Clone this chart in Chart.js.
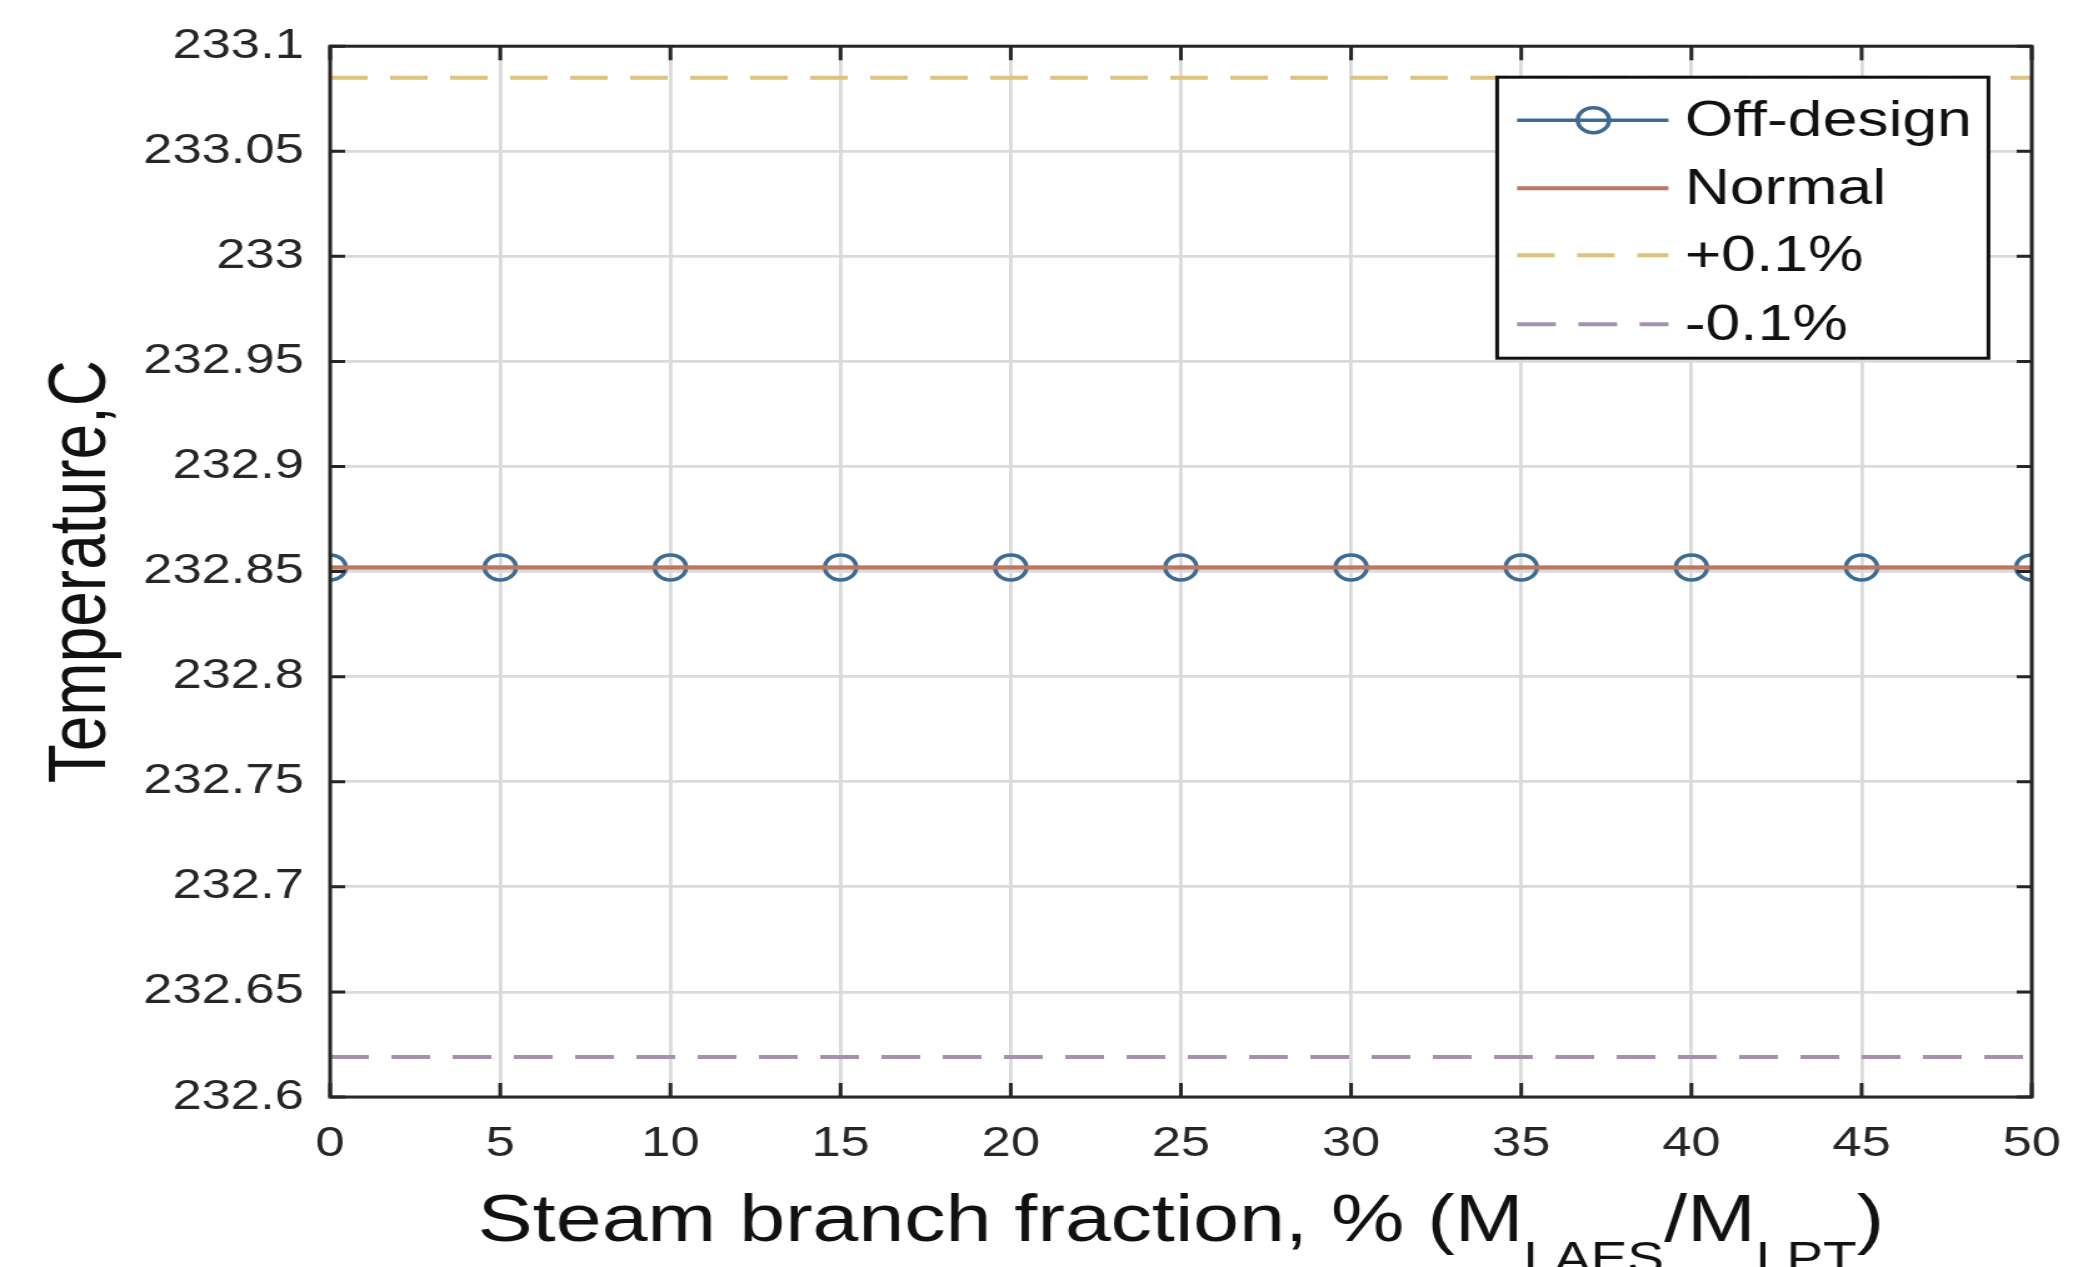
<!DOCTYPE html>
<html>
<head>
<meta charset="utf-8">
<script src="https://cdn.jsdelivr.net/npm/chart.js@4.4.1/dist/chart.umd.min.js"></script>
<style>
  html, body { margin: 0; padding: 0; background: #ffffff; overflow: hidden; }
  #wrap { position: absolute; left: 0; top: 0; width: 1674px; height: 1267px;
          transform: scaleX(1.2503); transform-origin: 0 0; }
</style>
</head>
<body>
<div id="wrap"><canvas id="c"></canvas></div>
<script>
// ---------- data ----------
const xValues      = [0, 5, 10, 15, 20, 25, 30, 35, 40, 45, 50];
const offDesign    = [232.852, 232.852, 232.852, 232.852, 232.852, 232.852, 232.852, 232.852, 232.852, 232.852, 232.852];
const normalTemp   = [232.852, 232.852, 232.852, 232.852, 232.852, 232.852, 232.852, 232.852, 232.852, 232.852, 232.852];
const plusBand     = [233.085, 233.085, 233.085, 233.085, 233.085, 233.085, 233.085, 233.085, 233.085, 233.085, 233.085];
const minusBand    = [232.619, 232.619, 232.619, 232.619, 232.619, 232.619, 232.619, 232.619, 232.619, 232.619, 232.619];
const seriesLabels = ['Off-design', 'Normal', '+0.1%', '-0.1%'];
const yTickValues  = [232.6, 232.65, 232.7, 232.75, 232.8, 232.85, 232.9, 232.95, 233, 233.05, 233.1];
const yTickLabels  = ['232.6', '232.65', '232.7', '232.75', '232.8', '232.85', '232.9', '232.95', '233', '233.05', '233.1'];
const xTickLabels  = ['0', '5', '10', '15', '20', '25', '30', '35', '40', '45', '50'];
const yTitleText   = 'Temperature,C';
const xTitleParts  = [['Steam branch fraction, % (M', false], ['LAES', true], ['/M', false], ['LPT', true], [')', false]];

// ---------- style ----------
const FONT = "'Liberation Sans', Arial, Helvetica, sans-serif";
const AX = '#262626';
const pts = arr => xValues.map((x, i) => ({ x: x, y: arr[i] }));

const decor = {
  id: 'decor',
  afterDatasetsDraw(chart) {
    const { ctx, chartArea: a, scales: { x, y } } = chart;
    ctx.save();
    // inward ticks on all four sides
    ctx.strokeStyle = AX;
    ctx.lineWidth = 3;
    ctx.beginPath();
    y.ticks.forEach(t => {
      const py = y.getPixelForValue(t.value);
      ctx.moveTo(a.left, py); ctx.lineTo(a.left + 12, py);
      ctx.moveTo(a.right, py); ctx.lineTo(a.right - 12, py);
    });
    x.ticks.forEach(t => {
      const px = x.getPixelForValue(t.value);
      ctx.moveTo(px, a.bottom); ctx.lineTo(px, a.bottom - 14);
      ctx.moveTo(px, a.top); ctx.lineTo(px, a.top + 14);
    });
    ctx.stroke();
    ctx.strokeRect(a.left, a.top, a.right - a.left, a.bottom - a.top);

    // legend box
    const bw = 393, bh = 281;
    const bx = a.right - 34.6 - bw, by = a.top + 31;
    ctx.fillStyle = '#ffffff';
    ctx.fillRect(bx, by, bw, bh);
    ctx.strokeStyle = '#111';
    ctx.lineWidth = 3;
    ctx.strokeRect(bx, by, bw, bh);
    const rowOff = [43, 111, 178, 247];
    chart.data.datasets.forEach((ds, i) => {
      const ry = by + rowOff[i];
      ctx.save();
      ctx.strokeStyle = ds.borderColor;
      ctx.lineWidth = ds.borderWidth;
      ctx.setLineDash(ds.borderDash || []);
      ctx.beginPath();
      ctx.moveTo(bx + 16, ry); ctx.lineTo(bx + 137, ry);
      ctx.stroke();
      ctx.setLineDash([]);
      if (ds.pointRadius > 0) {
        ctx.beginPath();
        ctx.lineWidth = ds.pointBorderWidth;
        ctx.strokeStyle = ds.pointBorderColor;
        ctx.arc(bx + 77, ry, ds.pointRadius, 0, Math.PI * 2);
        ctx.stroke();
      }
      ctx.restore();
      ctx.fillStyle = '#111';
      ctx.font = '50px ' + FONT;
      ctx.textAlign = 'left';
      ctx.textBaseline = 'middle';
      ctx.fillText(ds.label, bx + 150, ry + 2);
    });

    // x-axis title with subscripts
    const mainFont = '66px ' + FONT, subFont = '44px ' + FONT;
    let total = 0;
    xTitleParts.forEach(([t, sub]) => { ctx.font = sub ? subFont : mainFont; total += ctx.measureText(t).width; });
    let cx = (a.left + a.right) / 2 - total / 2;
    const base = a.bottom + 144;
    ctx.fillStyle = '#111';
    ctx.textAlign = 'left';
    ctx.textBaseline = 'alphabetic';
    xTitleParts.forEach(([t, sub]) => {
      ctx.font = sub ? subFont : mainFont;
      ctx.fillText(t, cx, sub ? base + 32 : base);
      cx += ctx.measureText(t).width;
    });
    ctx.restore();
  }
};

new Chart(document.getElementById('c'), {
  type: 'line',
  data: {
    datasets: [
      { label: seriesLabels[0], data: pts(offDesign), borderColor: '#3D6B93', backgroundColor: 'rgba(0,0,0,0)',
        borderWidth: 3.5, pointRadius: 12.5, pointBorderWidth: 3.5, pointBorderColor: '#3D6B93',
        pointBackgroundColor: 'rgba(0,0,0,0)', order: 2 },
      { label: seriesLabels[1], data: pts(normalTemp), borderColor: '#BD7660', backgroundColor: 'rgba(0,0,0,0)',
        borderWidth: 4, pointRadius: 0, order: 1 },
      { label: seriesLabels[2], data: pts(plusBand), borderColor: '#DCC47E', backgroundColor: 'rgba(0,0,0,0)',
        borderWidth: 4, borderDash: [30, 18], pointRadius: 0, order: 1 },
      { label: seriesLabels[3], data: pts(minusBand), borderColor: '#A690AE', backgroundColor: 'rgba(0,0,0,0)',
        borderWidth: 4, borderDash: [31, 18], pointRadius: 0, order: 1 }
    ]
  },
  options: {
    animation: false,
    responsive: true,
    maintainAspectRatio: false,
    layout: { padding: { left: 0, top: 42, right: 49, bottom: 0 } },
    plugins: { legend: { display: false }, tooltip: { enabled: false }, title: { display: false } },
    scales: {
      x: {
        type: 'linear', min: 0, max: 50,
        afterBuildTicks: s => { s.ticks = xValues.map(v => ({ value: v })); },
        afterFit: s => { s.height = 170; },
        ticks: { callback: (v, i) => xTickLabels[i], font: { family: FONT, size: 42 }, color: AX,
                 padding: 22, maxRotation: 0, autoSkip: false },
        grid: { color: '#dadada', lineWidth: 2.8, drawTicks: false },
        border: { display: false }
      },
      y: {
        type: 'linear', min: 232.6, max: 233.1,
        afterBuildTicks: s => { s.ticks = yTickValues.map(v => ({ value: v })); },
        afterFit: s => { s.width = 264; },
        ticks: { callback: (v, i) => yTickLabels[i], font: { family: FONT, size: 42 }, color: AX,
                 padding: 21, autoSkip: false },
        grid: { color: '#dadada', lineWidth: 2.8, drawTicks: false },
        border: { display: false },
        title: { display: true, text: yTitleText, font: { family: FONT, size: 64 }, color: '#111',
                 padding: { top: 28, bottom: 0 } }
      }
    }
  },
  plugins: [decor]
});
</script>
</body>
</html>
